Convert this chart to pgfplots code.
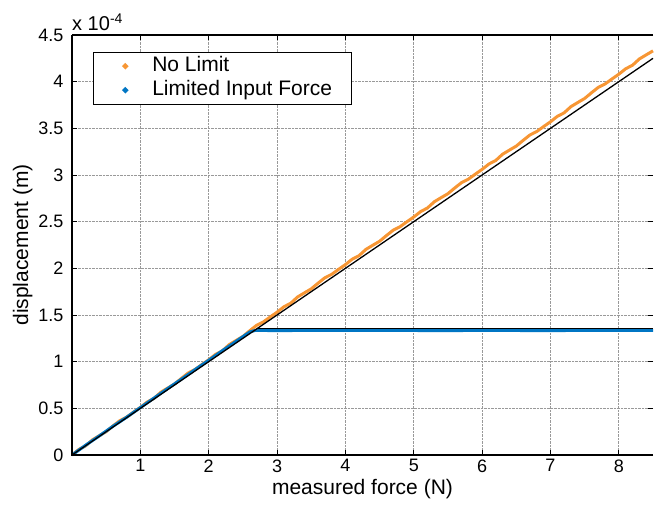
\documentclass[border=0pt]{standalone}
\usepackage{pgfplots}
\pgfplotsset{compat=1.18}
\usepackage{fontspec}
\setmainfont{Liberation Sans}
\definecolor{mlorange}{RGB}{247,150,52}
\definecolor{mlblue}{RGB}{0,118,196}

\pgfplotstableread{
x y
0.0 0.000
0.1 0.060
0.2 0.098
0.3 0.163
0.4 0.207
0.5 0.250
0.6 0.312
0.7 0.368
0.8 0.406
0.9 0.459
1.0 0.510
1.1 0.568
1.2 0.606
1.3 0.673
1.4 0.717
1.5 0.760
1.6 0.821
1.7 0.879
1.8 0.916
1.9 0.969
2.0 1.020
2.1 1.078
2.2 1.116
2.3 1.183
2.4 1.227
2.5 1.270
2.6 1.331
2.7 1.389
2.8 1.426
2.9 1.479
3.0 1.530
3.1 1.588
3.2 1.626
3.3 1.693
3.4 1.737
3.5 1.780
3.6 1.841
3.7 1.899
3.8 1.936
3.9 1.989
4.0 2.040
4.1 2.098
4.2 2.136
4.3 2.203
4.4 2.247
4.5 2.290
4.6 2.351
4.7 2.409
4.8 2.446
4.9 2.499
5.0 2.550
5.1 2.608
5.2 2.646
5.3 2.713
5.4 2.757
5.5 2.800
5.6 2.861
5.7 2.919
5.8 2.956
5.9 3.009
6.0 3.060
6.1 3.118
6.2 3.156
6.3 3.223
6.4 3.267
6.5 3.310
6.6 3.371
6.7 3.429
6.8 3.466
6.9 3.519
7.0 3.570
7.1 3.628
7.2 3.666
7.3 3.733
7.4 3.777
7.5 3.820
7.6 3.881
7.7 3.939
7.8 3.976
7.9 4.029
8.0 4.080
8.1 4.138
8.2 4.176
8.3 4.243
8.4 4.287
8.5 4.330
}\nolimit

\pgfplotstableread{
x y
0.0 0.000
0.2 0.105
0.4 0.205
0.6 0.308
0.8 0.405
1.0 0.508
1.2 0.610
1.4 0.712
1.6 0.812
1.8 0.915
2.0 1.015
2.2 1.118
2.4 1.218
2.6 1.318
2.68 1.335
3.0 1.333
3.5 1.335
4.0 1.334
4.5 1.336
5.0 1.334
5.5 1.333
6.0 1.335
6.5 1.334
7.0 1.333
7.5 1.335
8.0 1.334
8.5 1.334
}\limited

\begin{document}
\begin{tikzpicture}
\begin{axis}[
  scale only axis,
  width=581pt, height=420pt,
  xmin=0, xmax=8.5, ymin=0, ymax=4.5,
  clip=false,
  xtick={1,2,...,8},
  ytick={0,0.5,...,4.5},
  yticklabels={0,0.5,1,1.5,2,2.5,3,3.5,4,4.5},
  /pgf/number format/assume math mode=true,
  tick label style={font=\fontsize{18}{20}\selectfont},
  xticklabel style={yshift=-1pt},
  yticklabel style={xshift=-5pt},
  label style={font=\fontsize{21}{24}\selectfont},
  xlabel={measured force (N)},
  ylabel={displacement (m)},
  xlabel style={yshift=0pt},
  ylabel style={yshift=-1pt},
  grid=major,
  grid style={densely dotted, black!40, line width=0.7pt},
  tick align=inside,
  major tick length=5pt,
  tick style={black, line width=0.8pt},
  axis line style={draw=none},
  legend style={at={(0.036,0.96)}, anchor=north west, draw=black, line width=0.8pt,
    inner xsep=12pt, inner ysep=2pt, row sep=0pt,
    font=\fontsize{21}{24}\selectfont,
    nodes={inner xsep=7pt, inner ysep=2pt, text height=15pt, text depth=5pt}},
  legend cell align=left,
  legend image code/.code={\path[draw=none, fill=none] (0pt,0pt) rectangle (40pt,0pt); \fill (20pt,0pt) circle (1.2pt);},
]
\addplot[mlorange, line width=3pt] table {\nolimit};
\addlegendentry{No Limit}
\addplot[mlblue, line width=3pt] table {\limited};
\addlegendentry{Limited Input Force}
\addplot[black, line width=1.3pt, forget plot] coordinates {(0,0) (8.5,4.25)};
\addplot[black, line width=1.2pt, forget plot] coordinates {(2.71,1.357) (8.5,1.357)};
\draw[black, line width=1.3pt] (rel axis cs:0,1) -- (rel axis cs:0,0) -- (rel axis cs:1,0);
\draw[black, line width=1.3pt] (rel axis cs:0,1) -- (rel axis cs:1,1);
\node[anchor=south west, inner sep=0pt, font=\fontsize{20}{22}\selectfont] at ([yshift=4pt]rel axis cs:0,1) {x 10\textsuperscript{-4}};
\end{axis}
\path ([shift={(-72pt,-51pt)}]current axis.south west) rectangle ([shift={(16pt,35pt)}]current axis.north east);
\end{tikzpicture}
\end{document}
